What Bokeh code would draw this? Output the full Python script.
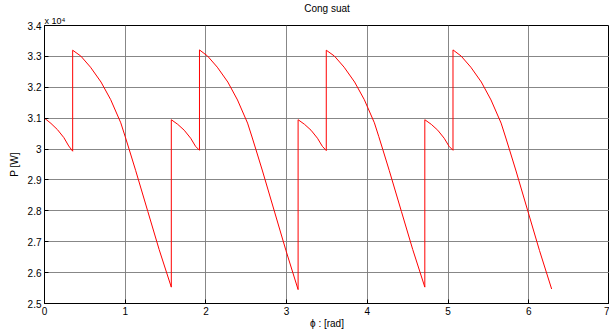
from bokeh.plotting import figure
from bokeh.models import FixedTicker, Range1d, Title
from bokeh.embed import file_html
from bokeh.resources import INLINE

# phase angle [rad]
phi = [
    0.000, 0.080, 0.160, 0.240, 0.300, 0.349, 0.349, 0.450, 0.570, 0.700, 0.820, 0.945, 1.000, 1.050, 1.130, 1.280, 1.420, 1.571,
    1.571, 1.651, 1.731, 1.811, 1.871, 1.920, 1.920, 2.021, 2.141, 2.271, 2.391, 2.516, 2.571, 2.621, 2.701, 2.851, 2.991, 3.142,
    3.142, 3.222, 3.302, 3.382, 3.442, 3.491, 3.491, 3.592, 3.712, 3.842, 3.962, 4.087, 4.142, 4.192, 4.272, 4.422, 4.562, 4.712,
    4.712, 4.792, 4.872, 4.952, 5.012, 5.061, 5.061, 5.162, 5.282, 5.412, 5.532, 5.657, 5.712, 5.762, 5.842, 5.992, 6.132, 6.283,
]
# power [W]
P = [
    31000, 30830, 30630, 30370, 30100, 29930, 33200, 33010, 32650, 32170, 31600, 30850, 30400, 29980, 29300, 27980, 26750, 25530,
    30950, 30800, 30610, 30350, 30090, 29960, 33210, 33010, 32650, 32170, 31590, 30840, 30390, 29970, 29290, 27960, 26720, 25450,
    30950, 30800, 30610, 30350, 30090, 29950, 33200, 33010, 32650, 32170, 31600, 30850, 30400, 29980, 29300, 27980, 26750, 25530,
    30950, 30800, 30610, 30350, 30090, 29960, 33210, 33010, 32650, 32170, 31590, 30840, 30390, 29970, 29290, 27960, 26720, 25470,
]

x_ticks = [0, 1, 2, 3, 4, 5, 6, 7]
y_ticks = [25000, 26000, 27000, 28000, 29000, 30000, 31000, 32000, 33000, 34000]
y_tick_labels = ["2.5", "2.6", "2.7", "2.8", "2.9", "3", "3.1", "3.2", "3.3", "3.4"]

FONT = "Liberation Sans"

p = figure(width=609, height=331, output_backend="svg", toolbar_location=None,
           x_range=Range1d(0, 7), y_range=Range1d(25000, 34000),
           min_border_left=44, min_border_right=0, min_border_top=21, min_border_bottom=27,
           background_fill_color="white", border_fill_color="white")

# exponent note, sits right above the frame on the left
p.add_layout(Title(text="x 10⁴", align="left", text_font=FONT, text_font_size="9px",
                   text_font_style="normal", text_color="black", standoff=0, offset=0), "above")

p.title.text = "Cong suat"
p.title.align = "center"
p.title.text_font = FONT
p.title.text_font_size = "10px"
p.title.text_font_style = "normal"
p.title.text_color = "black"
p.title.standoff = 0
p.title.offset = 0

p.line(phi, P, line_color="red", line_width=1)

xt = FixedTicker(ticks=x_ticks)
yt = FixedTicker(ticks=y_ticks)

def style_axis(ax, ticker):
    ax.ticker = ticker
    ax.major_tick_in = 4
    ax.major_tick_out = 0
    ax.minor_tick_line_color = None
    ax.axis_line_color = "black"
    ax.major_tick_line_color = "black"
    ax.major_label_text_font = FONT
    ax.major_label_text_font_size = "10px"
    ax.major_label_text_color = "black"
    ax.axis_label_text_font = FONT
    ax.axis_label_text_font_size = "10px"
    ax.axis_label_text_font_style = "normal"
    ax.axis_label_text_color = "black"

xa = p.xaxis[0]
style_axis(xa, xt)
xa.major_label_standoff = 3
xa.axis_label = "ϕ : [rad]"
xa.axis_label_standoff = 0

ya = p.yaxis[0]
style_axis(ya, yt)
ya.major_label_standoff = 3
ya.major_label_overrides = {t: s for t, s in zip(y_ticks, y_tick_labels)}
ya.axis_label = "P [W]"
ya.axis_label_standoff = 5

p.xgrid.ticker = xt
p.ygrid.ticker = yt
for g in (p.xgrid[0], p.ygrid[0]):
    g.grid_line_color = "#7a7a7a"
    g.grid_line_width = 1
    g.grid_line_alpha = 0.9

p.outline_line_color = "black"

open("out.html", "w").write(file_html(p, INLINE))
